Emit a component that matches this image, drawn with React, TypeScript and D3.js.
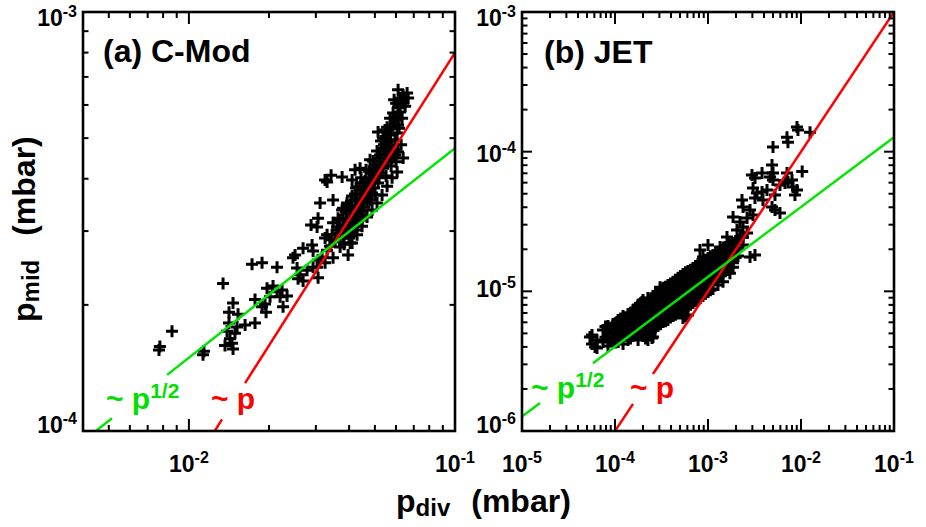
import React from "react";
import * as d3 from "d3";

// ---------- data ----------
// (a) C-Mod : [p_div (mbar), p_mid (mbar)]
const cmodPoints: [number, number][] = [
  [0.00772, 1.56e-4], [0.00778, 1.59e-4], [0.00864, 1.73e-4], [0.01139, 1.55e-4], [0.0113, 1.52e-4],
  [0.01344, 2.25e-4], [0.01465, 2.02e-4], [0.01415, 1.92e-4], [0.0153, 1.9e-4], [0.01415, 1.81e-4],
  [0.01517, 1.77e-4], [0.01391, 1.73e-4], [0.0149, 1.71e-4], [0.01427, 1.66e-4], [0.01452, 1.62e-4],
  [0.01367, 1.6e-4], [0.01465, 1.57e-4], [0.01626, 1.79e-4], [0.01772, 1.81e-4],
  [0.01727, 2.5e-4], [0.01883, 2.52e-4], [0.02144, 2.46e-4],
  [0.01772, 2.06e-4], [0.01932, 2.01e-4], [0.0195, 1.92e-4], [0.01883, 1.98e-4],
  [0.01966, 2.19e-4], [0.02071, 2.22e-4], [0.02144, 2.15e-4], [0.02239, 2.17e-4], [0.02338, 2.1e-4],
  [0.02201, 2.09e-4], [0.02018, 2.09e-4], [0.02259, 1.98e-4],
  [0.02462, 2.59e-4], [0.02686, 2.73e-4], [0.02903, 2.78e-4], [0.02929, 2.69e-4],
  [0.0255, 2.45e-4], [0.02617, 2.36e-4], [0.02572, 2.31e-4], [0.02686, 2.28e-4], [0.0278, 2.42e-4], [0.02929, 2.46e-4],
  [0.03058, 2.32e-4], [0.03058, 2.56e-4], [0.03166, 2.6e-4], [0.03249, 2.52e-4], [0.03032, 2.46e-4],
  [0.03482, 2.59e-4], [0.03965, 2.63e-4], [0.03306, 2.7e-4], [0.03393, 2.76e-4],
  [0.02878, 3.1e-4], [0.03032, 3.07e-4], [0.03058, 3.22e-4], [0.03112, 3.5e-4], [0.03482, 3.56e-4],
  [0.03249, 2.89e-4], [0.03393, 2.86e-4], [0.03452, 2.94e-4],
  [0.03306, 3.93e-4], [0.03422, 4.08e-4], [0.03765, 4.04e-4], [0.03249, 3.97e-4],
  [0.04211, 4.2e-4], [0.04398, 4.24e-4], [0.04105, 3.97e-4], [0.04285, 3.82e-4], [0.04513, 3.91e-4],
  [0.03797, 3.4e-4], [0.04034, 3.46e-4], [0.03931, 3.31e-4],
  [0.037, 3.19e-4], [0.03605, 3.07e-4], [0.03864, 3.1e-4], [0.03482, 3.14e-4],
  [0.03306, 2.94e-4], [0.03605, 2.97e-4], [0.02506, 2.63e-4],
  [0.037, 2.75e-4], [0.04034, 2.81e-4],
  [0.04285, 3.14e-4], [0.04474, 3.19e-4], [0.04211, 3.02e-4],
  [0.04672, 3.62e-4], [0.04795, 3.76e-4], [0.04513, 3.5e-4], [0.04921, 3.97e-4], [0.05094, 4.13e-4],
  [0.06383, 4.48e-4],
  [0.06383, 6.33e-4], [0.06607, 6.41e-4], [0.06219, 6.23e-4], [0.06665, 6.23e-4], [0.06383, 6.06e-4], [0.06111, 6.52e-4],
  [0.05852, 5.74e-4], [0.06059, 5.62e-4], [0.05702, 5.58e-4], [0.06111, 5.93e-4],
  [0.05139, 5.17e-4], [0.05556, 5.31e-4], [0.06059, 5.14e-4], [0.05702, 5.09e-4], [0.05366, 5.0e-4],
  [0.03543, 2.83e-4], [0.03797, 2.89e-4], [0.04034, 2.92e-4],
  [0.03636, 3.02e-4], [0.03897, 3.03e-4], [0.04105, 2.99e-4],
  [0.03797, 3.22e-4], [0.04034, 3.21e-4], [0.04248, 3.26e-4], [0.03965, 3.12e-4],
  [0.04034, 3.37e-4], [0.04248, 3.4e-4], [0.04474, 3.35e-4], [0.03897, 3.33e-4],
  [0.04211, 3.56e-4], [0.04436, 3.6e-4], [0.04672, 3.52e-4], [0.04322, 3.46e-4],
  [0.04398, 3.76e-4], [0.04632, 3.8e-4], [0.04879, 3.7e-4], [0.04513, 3.66e-4],
  [0.04592, 3.95e-4], [0.04836, 4.02e-4], [0.05139, 3.91e-4], [0.04713, 3.87e-4],
  [0.04754, 4.17e-4], [0.05007, 4.24e-4], [0.05274, 4.13e-4], [0.05508, 4.06e-4],
  [0.04921, 4.41e-4], [0.05183, 4.48e-4], [0.0546, 4.39e-4], [0.05752, 4.29e-4], [0.05051, 4.31e-4],
  [0.05094, 4.66e-4], [0.05366, 4.73e-4], [0.05653, 4.63e-4], [0.05955, 4.56e-4], [0.05229, 4.56e-4],
  [0.05274, 4.92e-4], [0.05556, 4.87e-4], [0.05802, 4.79e-4], [0.05413, 4.82e-4],
  [0.0546, 5.23e-4], [0.05752, 5.28e-4],
  [0.06059, 4.15e-4], [0.05802, 4.02e-4], [0.05556, 3.84e-4], [0.0532, 3.66e-4], [0.05094, 3.5e-4],
  [0.04879, 3.37e-4], [0.04672, 3.24e-4], [0.04474, 3.08e-4], [0.04285, 2.94e-4], [0.04105, 2.81e-4],
  [0.04795, 4.44e-4], [0.04632, 4.2e-4], [0.04436, 4.02e-4], [0.04248, 3.8e-4], [0.04105, 3.64e-4],
  [0.03931, 3.5e-4], [0.03765, 3.37e-4], [0.03636, 3.22e-4],
  [0.037, 2.89e-4], [0.03864, 2.99e-4], [0.03965, 3.05e-4], [0.04141, 3.15e-4], [0.04285, 3.31e-4],
  [0.0436, 3.4e-4], [0.04553, 3.42e-4], [0.04398, 3.28e-4], [0.04177, 3.08e-4], [0.03999, 2.89e-4], [0.0383, 2.79e-4],
  [0.04713, 3.7e-4], [0.04795, 3.87e-4], [0.04964, 3.8e-4], [0.05051, 4.06e-4], [0.04921, 4.13e-4],
  [0.05183, 4.02e-4], [0.05366, 4.24e-4], [0.05229, 4.31e-4], [0.05604, 4.44e-4], [0.05508, 4.56e-4],
  [0.05802, 4.48e-4], [0.05653, 4.76e-4], [0.05904, 4.69e-4], [0.05508, 5.03e-4], [0.05702, 4.95e-4],
  [0.05955, 4.95e-4], [0.05604, 5.14e-4], [0.05852, 5.37e-4], [0.05955, 5.52e-4], [0.06111, 5.37e-4],
  [0.06219, 5.77e-4], [0.06328, 5.58e-4], [0.06006, 6.06e-4], [0.06328, 6.17e-4], [0.06495, 5.96e-4],
  [0.05904, 6.17e-4], [0.06165, 5.28e-4], [0.06273, 4.82e-4], [0.06111, 4.63e-4], [0.06006, 4.39e-4],
  [0.05007, 3.66e-4], [0.04795, 3.56e-4], [0.04592, 3.66e-4], [0.04211, 3.68e-4], [0.04069, 3.54e-4],
];

// (b) JET : [p_div (mbar), p_mid (mbar)]
const jetPoints: [number, number][] = [
  [5.66e-5, 4.87e-6], [5.66e-5, 4.2e-6],
  [6.4e-5, 4.49e-6], [6.4e-5, 3.93e-6],
  [7.43e-5, 5.29e-6], [7.43e-5, 4.34e-6],
  [8.41e-5, 5.65e-6], [8.41e-5, 4.95e-6], [8.41e-5, 4.06e-6],
  [9.51e-5, 5.83e-6], [9.51e-5, 5.12e-6], [9.51e-5, 4.49e-6],
  [1.08e-4, 6.23e-6], [1.08e-4, 5.29e-6], [1.08e-4, 4.79e-6], [1.08e-4, 4.34e-6],
  [1.22e-4, 6.66e-6], [1.22e-4, 5.65e-6], [1.22e-4, 4.87e-6], [1.22e-4, 4.2e-6],
  [1.38e-4, 6.89e-6], [1.38e-4, 6.03e-6], [1.38e-4, 5.2e-6], [1.38e-4, 4.49e-6],
  [1.56e-4, 7.35e-6], [1.56e-4, 6.44e-6], [1.56e-4, 5.56e-6], [1.56e-4, 4.79e-6],
  [1.77e-4, 7.98e-6], [1.77e-4, 6.89e-6], [1.77e-4, 5.93e-6], [1.77e-4, 5.03e-6], [1.77e-4, 4.49e-6],
  [2.0e-4, 8.67e-6], [2.0e-4, 7.35e-6], [2.0e-4, 6.44e-6], [2.0e-4, 5.56e-6], [2.0e-4, 4.79e-6],
  [2.26e-4, 8.96e-6], [2.26e-4, 7.85e-6], [2.26e-4, 6.77e-6], [2.26e-4, 5.93e-6], [2.26e-4, 5.12e-6], [2.26e-4, 4.49e-6],
  [2.56e-4, 9.27e-6], [2.56e-4, 8.11e-6], [2.56e-4, 7.11e-6], [2.56e-4, 6.23e-6], [2.56e-4, 5.29e-6], [2.56e-4, 4.71e-6],
  [2.9e-4, 9.9e-6], [2.9e-4, 8.67e-6], [2.9e-4, 7.6e-6], [2.9e-4, 6.55e-6], [2.9e-4, 5.65e-6],
  [3.28e-4, 1.06e-5], [3.28e-4, 9.27e-6], [3.28e-4, 7.98e-6], [3.28e-4, 6.89e-6], [3.28e-4, 6.03e-6],
  [3.71e-4, 1.11e-5], [3.71e-4, 9.74e-6], [3.71e-4, 8.39e-6], [3.71e-4, 7.35e-6], [3.71e-4, 6.23e-6],
  [4.2e-4, 1.17e-5], [4.2e-4, 1.02e-5], [4.2e-4, 8.96e-6], [4.2e-4, 7.72e-6], [4.2e-4, 6.66e-6],
  [4.76e-4, 1.25e-5], [4.76e-4, 1.07e-5], [4.76e-4, 9.42e-6], [4.76e-4, 8.11e-6], [4.76e-4, 7.0e-6],
  [5.38e-4, 1.33e-5], [5.38e-4, 1.15e-5], [5.38e-4, 9.9e-6], [5.38e-4, 8.67e-6], [5.38e-4, 7.35e-6], [5.38e-4, 6.44e-6],
  [6.09e-4, 1.4e-5], [6.09e-4, 1.21e-5], [6.09e-4, 1.04e-5], [6.09e-4, 9.11e-6], [6.09e-4, 7.85e-6], [6.09e-4, 6.77e-6],
  [6.9e-4, 1.47e-5], [6.9e-4, 1.29e-5], [6.9e-4, 1.11e-5], [6.9e-4, 9.58e-6], [6.9e-4, 8.25e-6],
  [7.8e-4, 1.57e-5], [7.8e-4, 1.35e-5], [7.8e-4, 1.17e-5], [7.8e-4, 1.02e-5], [7.8e-4, 8.67e-6],
  [8.83e-4, 1.62e-5], [8.83e-4, 1.42e-5], [8.83e-4, 1.25e-5], [8.83e-4, 1.07e-5], [8.83e-4, 9.27e-6],
  [1.0e-3, 1.73e-5], [1.0e-3, 1.52e-5], [1.0e-3, 1.31e-5], [1.0e-3, 1.13e-5], [1.0e-3, 9.9e-6],
  [1.13e-3, 1.82e-5], [1.13e-3, 1.6e-5], [1.13e-3, 1.38e-5], [1.13e-3, 1.21e-5], [1.13e-3, 1.04e-5],
  [1.28e-3, 1.91e-5], [1.28e-3, 1.68e-5], [1.28e-3, 1.47e-5], [1.28e-3, 1.27e-5], [1.28e-3, 1.11e-5],
  [1.45e-3, 2.04e-5], [1.45e-3, 1.76e-5], [1.45e-3, 1.54e-5], [1.45e-3, 1.35e-5], [1.45e-3, 1.17e-5],
  [1.64e-3, 2.11e-5], [1.64e-3, 1.85e-5], [1.64e-3, 1.62e-5], [1.64e-3, 1.42e-5],
  [1.86e-3, 2.22e-5], [1.86e-3, 1.95e-5], [1.86e-3, 1.7e-5], [1.86e-3, 1.49e-5],
  [2.1e-3, 2.33e-5], [2.1e-3, 2.04e-5], [2.1e-3, 1.79e-5],
  [2.38e-3, 2.45e-5], [2.38e-3, 2.15e-5],
  [7.9e-5, 5.6e-6], [7.9e-5, 4.7e-6],
  [8.95e-5, 5.4e-6], [8.95e-5, 4.4e-6],
  [1.01e-4, 5.9e-6], [1.01e-4, 5.0e-6], [1.01e-4, 4.3e-6],
  [1.15e-4, 6.4e-6], [1.15e-4, 5.5e-6], [1.15e-4, 4.6e-6],
  [1.3e-4, 6.5e-6], [1.3e-4, 5.6e-6], [1.3e-4, 4.8e-6],
  [1.47e-4, 7.0e-6], [1.47e-4, 6.1e-6], [1.47e-4, 5.2e-6], [1.47e-4, 4.6e-6],
  [1.66e-4, 7.6e-6], [1.66e-4, 6.6e-6], [1.66e-4, 5.7e-6], [1.66e-4, 4.9e-6],
  [1.88e-4, 8.2e-6], [1.88e-4, 7.1e-6], [1.88e-4, 6.1e-6], [1.88e-4, 5.3e-6],
  [2.13e-4, 8.3e-6], [2.13e-4, 7.1e-6], [2.13e-4, 6.2e-6], [2.13e-4, 5.3e-6], [2.13e-4, 4.6e-6],
  [2.41e-4, 8.6e-6], [2.41e-4, 7.5e-6], [2.41e-4, 6.5e-6], [2.41e-4, 5.6e-6], [2.41e-4, 4.9e-6],
  [2.72e-4, 9.6e-6], [2.72e-4, 8.3e-6], [2.72e-4, 7.3e-6], [2.72e-4, 6.3e-6], [2.72e-4, 5.5e-6],
  [3.08e-4, 1.02e-5], [3.08e-4, 8.9e-6], [3.08e-4, 7.7e-6], [3.08e-4, 6.7e-6], [3.08e-4, 5.8e-6],
  [3.49e-4, 1.08e-5], [3.49e-4, 9.5e-6], [3.49e-4, 8.2e-6], [3.49e-4, 7.1e-6], [3.49e-4, 6.1e-6],
  [3.95e-4, 1.14e-5], [3.95e-4, 9.9e-6], [3.95e-4, 8.7e-6], [3.95e-4, 7.5e-6], [3.95e-4, 6.5e-6],
  [4.47e-4, 1.21e-5], [4.47e-4, 1.05e-5], [4.47e-4, 9.2e-6], [4.47e-4, 7.9e-6], [4.47e-4, 6.8e-6],
  [5.06e-4, 1.29e-5], [5.06e-4, 1.11e-5], [5.06e-4, 9.6e-6], [5.06e-4, 8.4e-6], [5.06e-4, 7.2e-6],
  [5.72e-4, 1.37e-5], [5.72e-4, 1.18e-5], [5.72e-4, 1.02e-5], [5.72e-4, 8.9e-6], [5.72e-4, 7.6e-6], [5.72e-4, 6.6e-6],
  [6.48e-4, 1.43e-5], [6.48e-4, 1.25e-5], [6.48e-4, 1.08e-5], [6.48e-4, 9.3e-6], [6.48e-4, 8.0e-6],
  [7.34e-4, 1.52e-5], [7.34e-4, 1.32e-5], [7.34e-4, 1.14e-5], [7.34e-4, 9.9e-6], [7.34e-4, 8.5e-6],
  [8.3e-4, 1.6e-5], [8.3e-4, 1.39e-5], [8.3e-4, 1.21e-5], [8.3e-4, 1.05e-5], [8.3e-4, 9.0e-6],
  [9.4e-4, 1.68e-5], [9.4e-4, 1.47e-5], [9.4e-4, 1.28e-5], [9.4e-4, 1.1e-5], [9.4e-4, 9.6e-6],
  [1.06e-3, 1.78e-5], [1.06e-3, 1.56e-5], [1.06e-3, 1.35e-5], [1.06e-3, 1.17e-5], [1.06e-3, 1.02e-5],
  [1.2e-3, 1.87e-5], [1.2e-3, 1.64e-5], [1.2e-3, 1.43e-5], [1.2e-3, 1.24e-5],
  [1.36e-3, 1.98e-5], [1.36e-3, 1.72e-5], [1.36e-3, 1.5e-5], [1.36e-3, 1.31e-5],
  [1.54e-3, 2.08e-5], [1.54e-3, 1.8e-5], [1.54e-3, 1.58e-5], [1.54e-3, 1.39e-5],
  [1.75e-3, 2.17e-5], [1.75e-3, 1.9e-5], [1.75e-3, 1.66e-5],
  [1.98e-3, 2.28e-5], [1.98e-3, 2.0e-5], [1.98e-3, 1.75e-5],
  [9.05e-3, 1.5e-4], [9.28e-3, 1.43e-4], [1.25e-2, 1.38e-4], [7.07e-3, 1.27e-4], [7.24e-3, 1.17e-4],
  [5.0e-3, 1.08e-4], [4.88e-3, 8.03e-5], [5.0e-3, 7.03e-5],
  [2.97e-3, 6.81e-5], [3.81e-3, 7.03e-5], [3.2e-3, 6.48e-5], [4.65e-3, 6.59e-5], [5.0e-3, 6.27e-5],
  [7.07e-3, 7.03e-5], [8.0e-3, 6.27e-5], [6.73e-3, 5.97e-5], [8.2e-3, 5.58e-5], [9.05e-3, 5.32e-5],
  [8.61e-3, 4.9e-5], [1.03e-2, 7.2e-5], [5.94e-3, 5.77e-5], [7.24e-3, 6.07e-5],
  [3.05e-3, 5.49e-5], [3.36e-3, 5.06e-5], [3.81e-3, 5.14e-5], [4.31e-3, 5.32e-5], [3.2e-3, 4.66e-5],
  [3.9e-3, 4.51e-5], [5.25e-3, 4.9e-5], [4.88e-3, 4.02e-5], [5.94e-3, 3.64e-5], [5.25e-3, 3.82e-5],
  [2.32e-3, 4.51e-5], [2.38e-3, 4.02e-5], [1.86e-3, 3.41e-5], [2.21e-3, 3.14e-5], [2.63e-3, 3.35e-5],
  [2.83e-3, 3.82e-5], [3.05e-3, 3.52e-5], [2.05e-3, 2.75e-5], [2.38e-3, 2.89e-5], [2.63e-3, 2.62e-5],
  [2.21e-3, 2.45e-5], [3.2e-3, 1.82e-5], [2.83e-3, 1.76e-5],
  [1.0e-3, 2.15e-5], [8.2e-4, 1.98e-5], [8.83e-4, 1.76e-5],
  [1.6e-3, 2.45e-5], [1.64e-3, 2.22e-5], [1.35e-3, 2.08e-5], [1.81e-3, 1.98e-5], [1.45e-3, 1.88e-5],
  [1.86e-3, 1.6e-5], [1.72e-3, 1.35e-5],
  [5.38e-5, 4.71e-6], [6.1e-5, 4.0e-6], [1.05e-4, 6.03e-6], [2.5e-4, 4.63e-6], [3.62e-4, 6.23e-6],
  [1.95e-4, 8.39e-6], [3.05e-4, 1.07e-5],
];

// axis tick labels (powers of ten)
const cmodXTicks = [1e-2, 1e-1];
const cmodYTicks = [1e-4, 1e-3];
const jetXTicks = [1e-5, 1e-4, 1e-3, 1e-2, 1e-1];
const jetYTicks = [1e-6, 1e-5, 1e-4, 1e-3];

// scaling fits  p_mid = a * p_div^k, with gaps where the labels sit
const cmodFits = [
  { a: 8e-3, k: 1, color: "#ff0000", gaps: [[0.01332, 0.01626]] },
  { a: 1.496e-3, k: 0.5, color: "#00e600", gaps: [[0.00514, 0.00828]] },
];
const jetFits = [
  { a: 1e-2, k: 1, color: "#ff0000", gaps: [[1.563e-4, 2.56e-4]] },
  { a: 4.016e-4, k: 0.5, color: "#00e600", gaps: [[1.563e-5, 5.79e-5]] },
];

const FONT = "'Liberation Sans', Arial, Helvetica, sans-serif";

type Fit = { a: number; k: number; color: string; gaps: number[][] };

function minorTicks(domain: number[]) {
  const out: { v: number; major: boolean }[] = [];
  const lo = Math.floor(Math.log10(domain[0]) - 1e-9);
  const hi = Math.ceil(Math.log10(domain[1]) + 1e-9);
  for (let e = lo; e <= hi; e++) {
    for (let m = 1; m <= 9; m++) {
      const v = m * Math.pow(10, e);
      if (v >= domain[0] * 0.999 && v <= domain[1] * 1.001) out.push({ v, major: m === 1 });
    }
  }
  return out;
}

function Pow({ v, size, supSize, ...rest }: any) {
  const e = Math.round(Math.log10(v));
  return (
    <text {...rest} fontSize={size} fontWeight="bold" fontFamily={FONT} fill="#000">
      10
      <tspan fontSize={supSize} dy={-9}>{String(e)}</tspan>
    </text>
  );
}

function Panel({ id, xDomain, yDomain, x0, x1, y0, y1, points, xTicks, yTicks, fits, title, sqrtLabel, linLabel }: any) {
  const x = d3.scaleLog().domain(xDomain).range([x0, x1]);
  const y = d3.scaleLog().domain(yDomain).range([y1, y0]);
  const xt = minorTicks(xDomain);
  const yt = minorTicks(yDomain);
  const line = d3.line<[number, number]>().x((d) => x(d[0])).y((d) => y(d[1]));
  const segs: { d: string; color: string }[] = [];
  (fits as Fit[]).forEach((f) => {
    let start = xDomain[0];
    const bounds: number[][] = [];
    f.gaps.forEach((g) => {
      bounds.push([start, g[0]]);
      start = g[1];
    });
    bounds.push([start, xDomain[1]]);
    bounds.forEach(([a, b]) => {
      const pts: [number, number][] = [a, b].map((xv) => [xv, f.a * Math.pow(xv, f.k)] as [number, number]);
      segs.push({ d: line(pts) || "", color: f.color });
    });
  });
  const plus = "M-6,0H6M0,-6V6";
  const labelBase = (ty: number) => ty + 14 - (12 * (ty - y0)) / (y1 - y0);
  return (
    <g>
      <defs>
        <clipPath id={id}>
          <rect x={x0} y={y0} width={x1 - x0} height={y1 - y0} />
        </clipPath>
      </defs>
      <g>
        {(points as [number, number][]).map((p, i) => (
          <path key={i} d={plus} transform={`translate(${x(p[0])},${y(p[1])})`} stroke="#000" strokeWidth={3} fill="none" />
        ))}
      </g>
      <g clipPath={`url(#${id})`}>
        {segs.map((s, i) => (
          <path key={i} d={s.d} stroke={s.color} strokeWidth={2.5} fill="none" />
        ))}
      </g>
      <rect x={x0} y={y0} width={x1 - x0} height={y1 - y0} fill="none" stroke="#000" strokeWidth={2.6} />
      {xt.map((t, i) => {
        const px = x(t.v);
        const L = t.major ? 12 : 6;
        return (
          <g key={"x" + i} stroke="#000" strokeWidth={2}>
            <line x1={px} x2={px} y1={y1} y2={y1 - L} />
            <line x1={px} x2={px} y1={y0} y2={y0 + L} />
          </g>
        );
      })}
      {yt.map((t, i) => {
        const py = y(t.v);
        const L = t.major ? 10 : 5.5;
        return (
          <g key={"y" + i} stroke="#000" strokeWidth={2}>
            <line x1={x0} x2={x0 + L} y1={py} y2={py} />
            <line x1={x1} x2={x1 - L} y1={py} y2={py} />
          </g>
        );
      })}
      {(xTicks as number[]).map((v, i) => (
        <Pow key={"xl" + i} v={v} size={23} supSize={16} x={x(v)} y={472} textAnchor="middle" />
      ))}
      {(yTicks as number[]).map((v, i) => (
        <Pow key={"yl" + i} v={v} size={23} supSize={16} x={x0 - 6} y={labelBase(y(v))} textAnchor="end" />
      ))}
      <text x={title.x} y={title.y} fontSize={32} fontWeight="bold" fontFamily={FONT} fill="#000">
        {title.text}
      </text>
      <text x={sqrtLabel.x} y={sqrtLabel.y} fontSize={30} fontWeight="bold" fontFamily={FONT} fill="#00e000">
        ~ p<tspan fontSize={21} dy={-11}>1/2</tspan>
      </text>
      <text x={linLabel.x} y={linLabel.y} fontSize={30} fontWeight="bold" fontFamily={FONT} fill="#ff0000">
        ~ p
      </text>
    </g>
  );
}

export default function App() {
  return (
    <svg width={926} height={527} style={{ position: "absolute", left: 0, top: 0, background: "#fff" }}>
      <rect x={0} y={0} width={926} height={527} fill="#fff" />
      <Panel
        id="clipA"
        xDomain={[0.004, 0.1]}
        yDomain={[1e-4, 1e-3]}
        x0={83}
        x1={455}
        y0={12}
        y1={431}
        points={cmodPoints}
        xTicks={cmodXTicks}
        yTicks={cmodYTicks}
        fits={cmodFits}
        title={{ text: "(a) C-Mod", x: 103, y: 62 }}
        sqrtLabel={{ x: 106, y: 409 }}
        linLabel={{ x: 211, y: 409 }}
      />
      <Panel
        id="clipB"
        xDomain={[1e-5, 0.1]}
        yDomain={[1e-6, 1e-3]}
        x0={522}
        x1={894}
        y0={12}
        y1={431}
        points={jetPoints}
        xTicks={jetXTicks}
        yTicks={jetYTicks}
        fits={jetFits}
        title={{ text: "(b) JET", x: 544, y: 63 }}
        sqrtLabel={{ x: 531, y: 398 }}
        linLabel={{ x: 630, y: 398 }}
      />
      <text transform="translate(35,322) rotate(-90)" fontWeight="bold" fontFamily={FONT} fill="#000">
        <tspan fontSize={32}>p</tspan>
        <tspan fontSize={24} dy={4}>mid</tspan>
        <tspan fontSize={32} dy={-4} dx={24}>(mbar)</tspan>
      </text>
      <text x={396} y={512} fontWeight="bold" fontFamily={FONT} fill="#000">
        <tspan fontSize={32}>p</tspan>
        <tspan fontSize={24} dy={4}>div</tspan>
        <tspan fontSize={32} dy={-4} dx={21}>(mbar)</tspan>
      </text>
    </svg>
  );
}
